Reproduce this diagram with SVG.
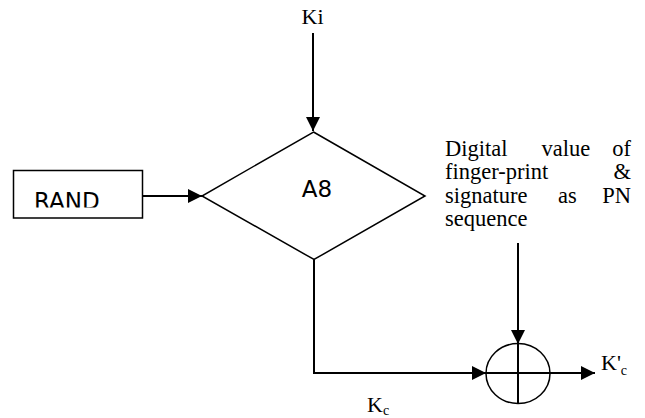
<svg xmlns="http://www.w3.org/2000/svg" width="645" height="418" viewBox="0 0 645 418">
<style>
.serif{font-family:"Liberation Serif","Times New Roman",serif;fill:#000}
.sans{font-family:"DejaVu Sans",sans-serif;fill:#000}
.shape{fill:#fff;stroke:#000;stroke-width:1.5}
.conn{fill:none;stroke:#000;stroke-width:2}
</style>
<defs>
<marker id="arr" viewBox="0 0 14 14" refX="14" refY="7" markerWidth="14" markerHeight="14" markerUnits="userSpaceOnUse" orient="auto">
<path d="M0,0 L14,7 L0,14 Z" fill="#000"/>
</marker>
<clipPath id="randclip"><rect x="14" y="171" width="128" height="36.5"/></clipPath>
</defs>
<rect width="645" height="418" fill="#fff"/>
<g id="connectors">
<line class="conn" x1="313" y1="33" x2="313" y2="131" marker-end="url(#arr)"/>
<line class="conn" x1="143" y1="196" x2="202" y2="196" marker-end="url(#arr)"/>
<polyline class="conn" points="314,259 314,373 486,373" marker-end="url(#arr)"/>
<line class="conn" x1="518" y1="243" x2="518" y2="344" marker-end="url(#arr)"/>
<line class="conn" x1="550" y1="373" x2="595" y2="373" marker-end="url(#arr)"/>
</g>
<g id="ki">
<text class="serif" x="312.5" y="23.5" font-size="22" text-anchor="middle">Ki</text>
</g>
<g id="rand">
<rect class="shape" x="13.5" y="170.5" width="129" height="47.5"/>
<text class="sans" x="34" y="209" font-size="23" clip-path="url(#randclip)">RAND</text>
</g>
<g id="a8">
<polygon class="shape" points="313.5,132 425,196 314,259.5 202,196"/>
<text class="sans" x="317" y="196.7" font-size="23" text-anchor="middle">A8</text>
</g>
<g id="pn-label">
<text class="serif" font-size="22.5">
<tspan x="445" y="156">Digital</tspan><tspan x="541.5" y="156">value</tspan><tspan x="631" y="156" text-anchor="end">of</tspan>
</text>
<text class="serif" font-size="22.5">
<tspan x="445" y="179">finger-print</tspan><tspan x="631" y="179" text-anchor="end">&amp;</tspan>
</text>
<text class="serif" font-size="22.5">
<tspan x="445" y="202.5">signature</tspan><tspan x="558" y="202.5">as</tspan><tspan x="631" y="202.5" text-anchor="end">PN</tspan>
</text>
<text class="serif" font-size="22.5" x="445" y="225.5">sequence</text>
</g>
<g id="xor">
<ellipse class="shape" cx="518" cy="373.5" rx="32" ry="30"/>
<line class="conn" x1="486" y1="373" x2="550" y2="373" stroke-width="1.8"/>
<line class="conn" x1="518" y1="343.5" x2="518" y2="403.5" stroke-width="1.8"/>
</g>
<g id="kc">
<text class="serif" x="367" y="412" font-size="22">K<tspan font-size="14" dy="3">c</tspan></text>
</g>
<g id="kc-prime">
<text class="serif" x="601" y="370" font-size="22">K'<tspan font-size="14" dy="5">c</tspan></text>
</g>
</svg>
